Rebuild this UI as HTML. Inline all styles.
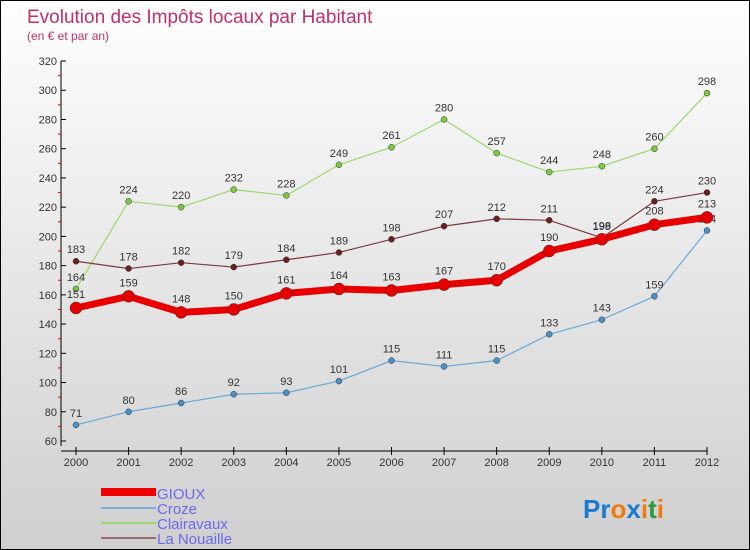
<!DOCTYPE html>
<html><head><meta charset="utf-8"><style>
body{margin:0}
#c{width:750px;height:550px;position:relative;box-sizing:border-box;border:1px solid #000;background:linear-gradient(#fefefe,#cfcfcf);font-family:"Liberation Sans",sans-serif;overflow:hidden}
</style></head><body>
<div id="c">
<svg id="s" width="750" height="550" style="position:absolute;left:0;top:0">
<text x="26" y="22" font-size="19" fill="#c0306a">Evolution des Impôts locaux par Habitant</text>
<text x="26" y="39" font-size="12" fill="#c0306a">(en € et par an)</text>
<g id="ax"></g><g id="ser"></g>
<g font-size="15">
<rect x="100" y="487" width="55" height="8" fill="#e00"/>
<text x="156" y="498" fill="#6a6aee">GIOUX</text>
<rect x="100" y="506" width="55" height="2" fill="#7aaed6"/>
<text x="156" y="513" fill="#6a6aee">Croze</text>
<rect x="100" y="521" width="55" height="2" fill="#9cd870"/>
<text x="156" y="528" fill="#6a6aee">Clairavaux</text>
<rect x="100" y="536" width="55" height="2" fill="#9a6a6a"/>
<text x="156" y="543" fill="#6a6aee">La Nouaille</text>
</g>
<text x="582" y="517" font-size="26" font-weight="bold"><tspan fill="#1a7ad0">Pr</tspan><tspan fill="#f07a10">o</tspan><tspan fill="#1a7ad0">x</tspan><tspan fill="#f07a10">i</tspan><tspan fill="#2a9a3a">t</tspan><tspan fill="#f07a10">i</tspan></text>
</svg></div>
<script>
const years=[2000,2001,2002,2003,2004,2005,2006,2007,2008,2009,2010,2011,2012];
const gioux=[151,159,148,150,161,164,163,167,170,190,198,208,213];
const croze=[71,80,86,92,93,101,115,111,115,133,143,159,204];
const clairavaux=[164,224,220,232,228,249,261,280,257,244,248,260,298];
const nouaille=[183,178,182,179,184,189,198,207,212,211,199,224,230];
const yTicks=[60,80,100,120,140,160,180,200,220,240,260,280,300,320];
const NS='http://www.w3.org/2000/svg';
const X=i=>75+i*(706-75)/(years.length-1);
const Y=v=>440-(v-60)*(380/260);
function mk(t,a,p){const e=document.createElementNS(NS,t);for(const k in a)e.setAttribute(k,a[k]);p.appendChild(e);return e;}
const ax=document.getElementById('ax');
let yl=mk('line',{x1:60,y1:60,x2:60,y2:445,stroke:'#000'},ax);


let xl=mk('line',{x1:60,y1:450,x2:706,y2:450,stroke:'#000'},ax);


yTicks.forEach((v,i)=>{
 mk('line',{x1:60,y1:Y(v),x2:65,y2:Y(v),stroke:'#000'},ax);
 if(i<yTicks.length-1)mk('line',{x1:57,y1:Y(v+10),x2:60,y2:Y(v+10),stroke:'#e00'},ax);
 const t=mk('text',{x:56,y:Y(v)+4,'font-size':11,'text-anchor':'end',fill:'#333'},ax);t.textContent=v;
 
 
});
years.forEach((y,i)=>{
 mk('line',{x1:X(i),y1:446,x2:X(i),y2:454,stroke:'#000'},ax);
 const t=mk('text',{x:X(i),y:465,'font-size':11,'text-anchor':'middle',fill:'#333'},ax);t.textContent=y;
 
 
});
const ser=document.getElementById('ser');
function draw(d,name,col,w,pc,r,lab){
 const g=mk('g',{},ser);
 
 
 mk('polyline',{points:d.map((v,i)=>X(i)+','+Y(v)).join(' '),fill:'none',stroke:col,'stroke-width':w,'stroke-linejoin':'round'},g);
 d.forEach((v,i)=>{
  const c=mk('circle',{cx:X(i),cy:Y(v),r:r,fill:pc,stroke:'#333','stroke-width':0.5},g);
  
  
  const t=mk('text',{x:X(i),y:Y(v)-lab,'font-size':11,'text-anchor':'middle',fill:'#333'},g);t.textContent=v;
  
  
 });
}
draw(croze,'croze','#6aa8d8',1.2,'#4a90c8',3,8);
draw(clairavaux,'clairavaux','#9cd870',1.2,'#7cc840',3,8);
draw(nouaille,'la-nouaille','#7a3a3a',1.2,'#6a2020',3,8);
draw(gioux,'gioux','#e80000',7,'#e80000',6,10);
</script>
</body></html>
